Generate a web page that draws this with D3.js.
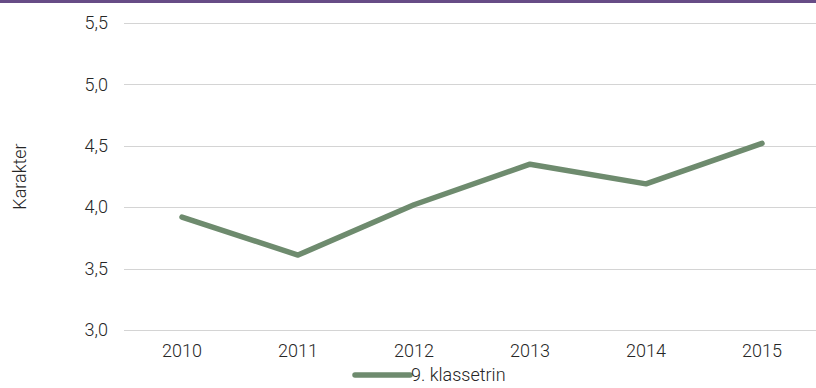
<!DOCTYPE html>
<html>
<head>
<meta charset="utf-8">
<script src="https://cdn.jsdelivr.net/npm/d3@7"></script>
<style>
  html, body { margin: 0; padding: 0; background: #fff; }
  svg { display: block; font-family: Roboto, "Noto Sans", sans-serif; }
</style>
</head>
<body>
<svg id="chart" width="816" height="388"></svg>
<script>
// Average grade per year, 9th grade
const years = ["2010", "2011", "2012", "2013", "2014", "2015"];
const grades = [3.92, 3.61, 4.02, 4.35, 4.19, 4.52];
const yTicks = [3.0, 3.5, 4.0, 4.5, 5.0, 5.5];
const seriesName = "9. klassetrin";
const yTitle = "Karakter";

const W = 816, H = 388;
const margin = { left: 124, right: -4, top: 23, bottom: 58 };
const FS = 18;
const TXT = "#262626";
const svg = d3.select("#chart");

// purple rule along the top edge
svg.append("rect").attr("x", 0).attr("y", 0).attr("width", W).attr("height", 3).attr("fill", "#674c86");

const x = d3.scaleBand().domain(years).range([margin.left, W - margin.right]).padding(0);
const y = d3.scaleLinear().domain([3.0, 5.5]).range([H - margin.bottom, margin.top]);

const fmt = v => d3.format(".1f")(v).replace(".", ",");

// horizontal gridlines
svg.append("g").selectAll("line").data(yTicks).join("line")
  .attr("x1", margin.left).attr("x2", W)
  .attr("y1", d => Math.round(y(d)) + 0.5).attr("y2", d => Math.round(y(d)) + 0.5)
  .attr("stroke", "#d4d4d4").attr("stroke-width", 1);

// y tick labels
const yAxis = d3.axisLeft(y).tickValues(yTicks).tickFormat(fmt).tickSize(0).tickPadding(16);
const gy = svg.append("g").attr("transform", `translate(${margin.left},0)`).call(yAxis);
gy.select(".domain").remove();
gy.selectAll("text").attr("font-size", FS).attr("font-weight", 300).attr("fill", TXT)
  .attr("font-family", "Roboto, sans-serif");

// x tick labels
const xAxis = d3.axisBottom(x).tickSize(0).tickPadding(14);
const gx = svg.append("g").attr("transform", `translate(0,${H - margin.bottom})`).call(xAxis);
gx.select(".domain").remove();
gx.selectAll("text").attr("font-size", FS).attr("font-weight", 300).attr("fill", TXT)
  .attr("font-family", "Roboto, sans-serif");

// y axis title
svg.append("text")
  .attr("transform", `translate(26,${(margin.top + H - margin.bottom) / 2}) rotate(-90)`)
  .attr("text-anchor", "middle")
  .attr("font-size", FS).attr("font-weight", 300).attr("fill", TXT)
  .text(yTitle);

// series line
const line = d3.line()
  .x((d, i) => x(years[i]) + x.bandwidth() / 2)
  .y(d => y(d));
svg.append("path").datum(grades)
  .attr("d", line)
  .attr("fill", "none").attr("stroke", "#6e8b6e").attr("stroke-width", 5.5)
  .attr("stroke-linecap", "round").attr("stroke-linejoin", "round");

// legend
const lg = svg.append("g").attr("transform", "translate(355,375)");
lg.append("line").attr("x1", 0).attr("x2", 55).attr("y1", 0).attr("y2", 0)
  .attr("stroke", "#6e8b6e").attr("stroke-width", 5.5).attr("stroke-linecap", "round");
lg.append("text").attr("x", 56).attr("y", 0).attr("dy", "0.35em")
  .attr("font-size", FS).attr("font-weight", 300).attr("fill", TXT)
  .text(seriesName);
</script>
</body>
</html>
